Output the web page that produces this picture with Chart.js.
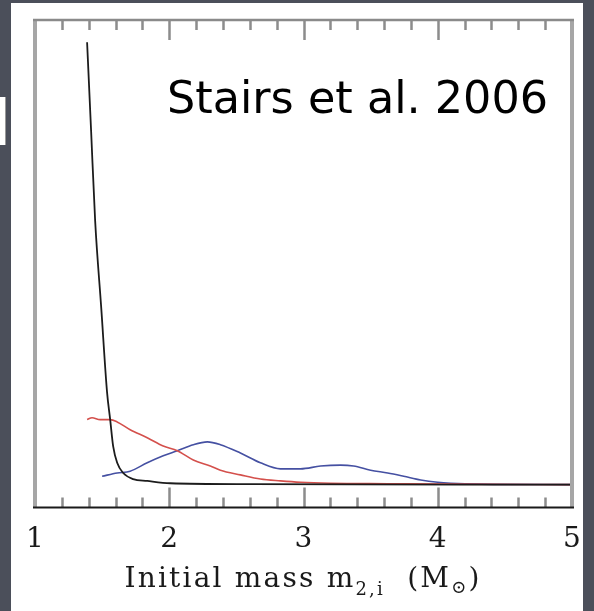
<!DOCTYPE html>
<html>
<head>
<meta charset="utf-8">
<script src="https://cdn.jsdelivr.net/npm/chart.js@4/dist/chart.umd.min.js"></script>
<style>
  html, body { margin: 0; padding: 0; }
  body { width: 594px; height: 611px; background: #4b4f5a; position: relative; overflow: hidden; }
  #panel { position: absolute; left: 11px; top: 3px; width: 572px; height: 608px; background: #fff; }
  #tab { position: absolute; left: 0; top: 97px; width: 5px; height: 48px; background: #fff; border-right: 1px solid #999; }
  #chart { position: absolute; left: 0; top: 0; }
</style>
</head>
<body>
<div id="tab"></div>
<div id="panel"></div>
<canvas id="chart" width="594" height="611"></canvas>
<script>
// ----------------- Data -----------------
// black: steep fall just above 1.4 Msun
const blackMass = [1.388, 1.418, 1.448, 1.493, 1.537, 1.560, 1.582, 1.612, 1.657, 1.731, 1.836, 2.007, 2.604, 5.0];
const blackFrac = [0.952, 0.761, 0.568, 0.382, 0.198, 0.140, 0.083, 0.047, 0.025, 0.012, 0.008, 0.003, 0.001, 0.0];

// red: flat shoulder then slow decay
const redMass = [1.388, 1.425, 1.485, 1.560, 1.612, 1.709, 1.836, 1.955, 2.060, 2.179, 2.306, 2.381, 2.530, 2.679, 2.828, 2.978, 3.201, 3.627, 4.097, 5.0];
const redFrac = [0.140, 0.144, 0.140, 0.140, 0.135, 0.118, 0.101, 0.083, 0.073, 0.053, 0.040, 0.031, 0.021, 0.012, 0.008, 0.005, 0.003, 0.002, 0.001, 0.0];

// blue: two humps near 2.3 and 3.3
const blueMass = [1.500, 1.612, 1.709, 1.836, 1.955, 2.060, 2.179, 2.284, 2.381, 2.530, 2.679, 2.828, 2.978, 3.127, 3.276, 3.373, 3.500, 3.627, 3.746, 3.873, 4.000, 4.097, 4.321, 5.0];
const blueFrac = [0.018, 0.025, 0.029, 0.047, 0.062, 0.073, 0.086, 0.092, 0.086, 0.068, 0.047, 0.034, 0.034, 0.040, 0.042, 0.040, 0.031, 0.025, 0.018, 0.010, 0.005, 0.003, 0.001, 0.0];

const xTicks = [1, 2, 3, 4, 5];
const citation = "Stairs et al. 2006";

function points(xs, ys) {
  return xs.map((x, i) => ({ x: x, y: ys[i] }));
}

// ----------------- Frame, inner ticks and text -----------------
const framePlugin = {
  id: "frame",
  afterDraw(chart) {
    const { ctx, chartArea: a, scales } = chart;
    const xs = scales.x;
    ctx.save();

    // minor every 0.2, major on integers, pointing inwards from top and bottom
    ctx.strokeStyle = "#8c8c8c";
    ctx.lineWidth = 2.5;
    for (let i = 1; i < 20; i++) {
      const v = 1 + i * 0.2;
      const px = Math.round(xs.getPixelForValue(v)) + 0.5;
      const len = i % 5 === 0 ? 20 : 10;
      ctx.beginPath();
      ctx.moveTo(px, a.top);
      ctx.lineTo(px, a.top + len);
      ctx.moveTo(px, a.bottom);
      ctx.lineTo(px, a.bottom - len);
      ctx.stroke();
    }

    // box
    ctx.strokeStyle = "#a6a6a6";
    ctx.lineWidth = 4;
    ctx.beginPath();
    ctx.moveTo(a.left, a.bottom);
    ctx.lineTo(a.left, a.top);
    ctx.moveTo(a.right, a.top);
    ctx.lineTo(a.right, a.bottom);
    ctx.stroke();
    ctx.strokeStyle = "#8a8a8a";
    ctx.lineWidth = 2.5;
    ctx.beginPath();
    ctx.moveTo(a.left - 2, a.top);
    ctx.lineTo(a.right + 2, a.top);
    ctx.stroke();
    ctx.strokeStyle = "#1a1a1a";
    ctx.lineWidth = 2;
    ctx.beginPath();
    ctx.moveTo(a.left - 2, a.bottom);
    ctx.lineTo(a.right + 2, a.bottom);
    ctx.stroke();

    // axis title with subscripts
    ctx.fillStyle = "#1a1a1a";
    ctx.textBaseline = "alphabetic";
    const big = "28px 'DejaVu Serif'";
    const small = "18px 'DejaVu Serif'";
    const parts = [
      { t: "Initial mass m", f: big, dy: 0 },
      { t: "2,i", f: small, dy: 8 },
      { t: "  (M", f: big, dy: 0 },
      { t: "\u2299", f: small, dy: 6 },
      { t: ")", f: big, dy: 0 }
    ];
    ctx.letterSpacing = "2.2px";
    let total = 0;
    parts.forEach(p => { ctx.font = p.f; p.w = ctx.measureText(p.t).width; total += p.w; });
    let x = 303 - total / 2;
    const base = 587;
    parts.forEach(p => {
      ctx.font = p.f;
      ctx.textAlign = "left";
      ctx.fillText(p.t, x, base + p.dy);
      x += p.w;
    });
    ctx.letterSpacing = "0px";

    // citation, fitted to its width
    ctx.font = "100px 'DejaVu Sans'";
    const w100 = ctx.measureText(citation).width;
    const size = 100 * 381 / w100;
    ctx.font = size.toFixed(1) + "px 'DejaVu Sans'";
    ctx.fillStyle = "#000";
    ctx.textAlign = "center";
    ctx.fillText(citation, 357.5, 113);

    ctx.restore();
  }
};

// ----------------- Chart -----------------
function lineSet(label, xs, ys, color, width) {
  return {
    label: label,
    data: points(xs, ys),
    borderColor: color,
    borderWidth: width,
    pointRadius: 0,
    fill: false,
    cubicInterpolationMode: "monotone"
  };
}

window.addEventListener("DOMContentLoaded", () => {
  const ctx = document.getElementById("chart").getContext("2d");
  new Chart(ctx, {
    type: "line",
    data: {
      datasets: [
        lineSet("black", blackMass, blackFrac, "#1c1c1c", 1.8),
        lineSet("red", redMass, redFrac, "#d4504c", 1.6),
        lineSet("blue", blueMass, blueFrac, "#4550a2", 1.6)
      ]
    },
    options: {
      responsive: false,
      animation: false,
      layout: { padding: { left: 35, right: 22, top: 20, bottom: 46 } },
      plugins: { legend: { display: false }, tooltip: { enabled: false } },
      scales: {
        x: {
          type: "linear",
          min: xTicks[0],
          max: xTicks[xTicks.length - 1],
          afterBuildTicks: s => { s.ticks = xTicks.map(v => ({ value: v })); },
          grid: { display: false },
          border: { display: false },
          ticks: {
            padding: 8,
            maxRotation: 0,
            color: "#1a1a1a",
            font: { family: "DejaVu Serif", size: 28 }
          }
        },
        y: { min: -0.049, max: 1, display: false }
      }
    },
    plugins: [framePlugin]
  });
});
</script>
</body>
</html>
